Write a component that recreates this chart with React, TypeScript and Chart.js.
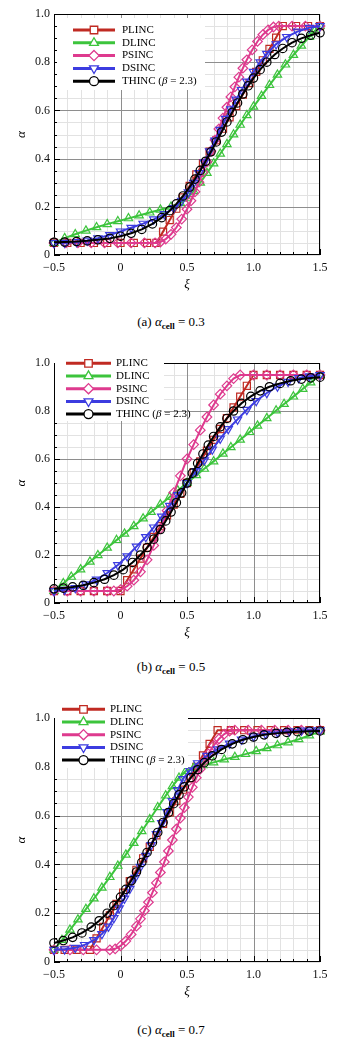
import React, { useEffect, useRef } from 'react';
import { Chart, registerables } from 'chart.js';

Chart.register(...registerables);

// ---------------- tick labels / names ----------------
const XI_TICK_VALUES = [-0.5, 0, 0.5, 1.0, 1.5];
const XI_TICK_LABELS = ['\u22120.5', '0', '0.5', '1.0', '1.5'];
const ALPHA_TICK_VALUES = [0, 0.2, 0.4, 0.6, 0.8, 1.0];
const ALPHA_TICK_LABELS = ['0', '0.2', '0.4', '0.6', '0.8', '1.0'];
const SERIES_NAMES = ['PLINC', 'DLINC', 'PSINC', 'DSINC', 'THINC'];
const THINC_BETA = '2.3';
const PANEL_LETTERS = ['(a)', '(b)', '(c)'];
const ALPHA_CELL_VALUES = ['0.3', '0.5', '0.7'];

// ---------------- (a) alpha_cell = 0.3 ----------------
const A_PLINC_XI = [-0.5, -0.4, -0.3, -0.2, -0.1, 0.0, 0.1, 0.2, 0.27, 0.32, 0.37, 0.42, 0.47, 0.52, 0.57, 0.62, 0.67, 0.72, 0.77, 0.82, 0.87, 0.92, 0.97, 1.02, 1.07, 1.12, 1.17, 1.22, 1.32, 1.41, 1.5];
const A_PLINC_ALPHA = [0.05, 0.05, 0.05, 0.05, 0.05, 0.05, 0.05, 0.05, 0.05, 0.097, 0.145, 0.192, 0.239, 0.287, 0.334, 0.381, 0.429, 0.476, 0.524, 0.571, 0.618, 0.666, 0.713, 0.76, 0.808, 0.855, 0.902, 0.95, 0.95, 0.95, 0.95];

const A_DLINC_XI = [-0.5, -0.42, -0.34, -0.26, -0.18, -0.1, -0.02, 0.06, 0.14, 0.22, 0.3, 0.38, 0.45, 0.5, 0.55, 0.6, 0.65, 0.7, 0.75, 0.8, 0.85, 0.9, 0.95, 1.0, 1.06, 1.12, 1.18, 1.24, 1.3, 1.36, 1.42, 1.46, 1.5];
const A_DLINC_ALPHA = [0.05, 0.07, 0.086, 0.101, 0.115, 0.128, 0.14, 0.152, 0.164, 0.176, 0.188, 0.2, 0.215, 0.235, 0.265, 0.3, 0.34, 0.38, 0.42, 0.46, 0.5, 0.54, 0.58, 0.615, 0.66, 0.705, 0.748, 0.79, 0.83, 0.868, 0.905, 0.93, 0.95];

const A_PSINC_XI = [-0.5, -0.41, -0.32, -0.22, -0.12, -0.02, 0.08, 0.18, 0.26, 0.3, 0.34, 0.38, 0.42, 0.46, 0.5, 0.53, 0.56, 0.59, 0.62, 0.65, 0.68, 0.71, 0.74, 0.77, 0.8, 0.83, 0.86, 0.89, 0.92, 0.95, 0.99, 1.03, 1.07, 1.11, 1.15, 1.19, 1.29, 1.39, 1.5];
const A_PSINC_ALPHA = [0.05, 0.05, 0.05, 0.05, 0.05, 0.05, 0.05, 0.05, 0.05, 0.054, 0.066, 0.086, 0.114, 0.149, 0.19, 0.225, 0.262, 0.302, 0.344, 0.387, 0.432, 0.477, 0.523, 0.568, 0.613, 0.656, 0.698, 0.738, 0.775, 0.81, 0.851, 0.886, 0.914, 0.934, 0.946, 0.95, 0.95, 0.95, 0.95];

const A_DSINC_XI = [-0.5, -0.42, -0.33, -0.25, -0.17, -0.08, 0.0, 0.08, 0.17, 0.25, 0.33, 0.4, 0.46, 0.51, 0.55, 0.59, 0.63, 0.67, 0.71, 0.75, 0.79, 0.83, 0.87, 0.91, 0.95, 1.0, 1.05, 1.1, 1.17, 1.25, 1.33, 1.42, 1.5];
const A_DSINC_ALPHA = [0.05, 0.051, 0.054, 0.06, 0.07, 0.083, 0.098, 0.113, 0.13, 0.148, 0.17, 0.195, 0.225, 0.26, 0.3, 0.34, 0.385, 0.43, 0.475, 0.52, 0.565, 0.605, 0.645, 0.685, 0.72, 0.76, 0.8, 0.835, 0.875, 0.905, 0.927, 0.943, 0.95];

const A_THINC_XI = [-0.5, -0.42, -0.33, -0.25, -0.17, -0.08, 0, 0.08, 0.16, 0.24, 0.31, 0.37, 0.42, 0.47, 0.52, 0.56, 0.6, 0.64, 0.68, 0.72, 0.76, 0.8, 0.84, 0.88, 0.92, 0.96, 1.0, 1.05, 1.1, 1.16, 1.22, 1.29, 1.36, 1.43, 1.5];
const A_THINC_ALPHA = [0.053, 0.054, 0.056, 0.059, 0.063, 0.069, 0.078, 0.09, 0.106, 0.129, 0.155, 0.184, 0.212, 0.245, 0.282, 0.315, 0.351, 0.389, 0.428, 0.469, 0.51, 0.552, 0.592, 0.631, 0.668, 0.702, 0.734, 0.769, 0.8, 0.832, 0.857, 0.881, 0.899, 0.912, 0.922];

// ---------------- (b) alpha_cell = 0.5 ----------------
const B_PLINC_XI = [-0.5, -0.4, -0.3, -0.2, -0.1, 0.0, 0.05, 0.1, 0.15, 0.2, 0.25, 0.3, 0.35, 0.4, 0.45, 0.5, 0.55, 0.6, 0.65, 0.7, 0.75, 0.8, 0.85, 0.9, 0.95, 1.0, 1.1, 1.2, 1.3, 1.4, 1.5];
const B_PLINC_ALPHA = [0.05, 0.05, 0.05, 0.05, 0.05, 0.05, 0.095, 0.14, 0.185, 0.23, 0.275, 0.32, 0.365, 0.41, 0.455, 0.5, 0.545, 0.59, 0.635, 0.68, 0.725, 0.77, 0.815, 0.86, 0.905, 0.95, 0.95, 0.95, 0.95, 0.95, 0.95];

const B_DLINC_XI = [-0.5, -0.43, -0.37, -0.3, -0.23, -0.17, -0.1, -0.03, 0.03, 0.1, 0.17, 0.23, 0.3, 0.37, 0.43, 0.5, 0.57, 0.63, 0.7, 0.77, 0.83, 0.9, 0.97, 1.03, 1.1, 1.17, 1.23, 1.3, 1.37, 1.43, 1.5];
const B_DLINC_ALPHA = [0.05, 0.082, 0.109, 0.14, 0.172, 0.199, 0.23, 0.262, 0.289, 0.32, 0.352, 0.379, 0.41, 0.442, 0.469, 0.5, 0.532, 0.559, 0.59, 0.622, 0.649, 0.68, 0.712, 0.739, 0.77, 0.802, 0.829, 0.86, 0.892, 0.919, 0.95];

const B_PSINC_XI = [-0.5, -0.4, -0.3, -0.2, -0.1, -0.05, 0, 0.05, 0.1, 0.15, 0.2, 0.25, 0.3, 0.35, 0.4, 0.45, 0.5, 0.55, 0.6, 0.65, 0.7, 0.75, 0.8, 0.85, 0.9, 1.0, 1.1, 1.2, 1.3, 1.4, 1.5];
const B_PSINC_ALPHA = [0.05, 0.05, 0.05, 0.05, 0.05, 0.05, 0.056, 0.07, 0.095, 0.13, 0.18, 0.24, 0.31, 0.385, 0.46, 0.53, 0.6, 0.66, 0.72, 0.775, 0.825, 0.87, 0.905, 0.935, 0.95, 0.95, 0.95, 0.95, 0.95, 0.95, 0.95];

const B_DSINC_XI = [-0.5, -0.42, -0.34, -0.26, -0.18, -0.1, -0.02, 0.05, 0.12, 0.19, 0.25, 0.31, 0.37, 0.43, 0.5, 0.57, 0.63, 0.69, 0.75, 0.81, 0.88, 0.95, 1.02, 1.1, 1.18, 1.26, 1.34, 1.42, 1.5];
const B_DSINC_ALPHA = [0.05, 0.055, 0.063, 0.078, 0.098, 0.125, 0.158, 0.195, 0.235, 0.275, 0.315, 0.36, 0.405, 0.45, 0.5, 0.55, 0.595, 0.64, 0.685, 0.725, 0.765, 0.805, 0.842, 0.875, 0.902, 0.922, 0.937, 0.945, 0.95];

const B_THINC_XI = [-0.5, -0.43, -0.36, -0.28, -0.2, -0.12, -0.05, 0.02, 0.09, 0.15, 0.2, 0.25, 0.3, 0.34, 0.38, 0.42, 0.46, 0.5, 0.54, 0.58, 0.62, 0.66, 0.7, 0.75, 0.8, 0.85, 0.91, 0.98, 1.05, 1.12, 1.2, 1.28, 1.36, 1.43, 1.5];
const B_THINC_ALPHA = [0.059, 0.062, 0.067, 0.074, 0.085, 0.099, 0.116, 0.139, 0.169, 0.2, 0.231, 0.266, 0.306, 0.342, 0.379, 0.418, 0.459, 0.5, 0.541, 0.582, 0.621, 0.658, 0.694, 0.734, 0.769, 0.8, 0.832, 0.861, 0.884, 0.901, 0.915, 0.926, 0.933, 0.938, 0.941];

// ---------------- (c) alpha_cell = 0.7 ----------------
const C_PLINC_XI = [-0.5, -0.42, -0.33, -0.23, -0.18, -0.13, -0.08, -0.03, 0.02, 0.07, 0.12, 0.17, 0.22, 0.27, 0.32, 0.37, 0.42, 0.47, 0.52, 0.57, 0.62, 0.67, 0.73, 0.83, 0.93, 1.03, 1.13, 1.23, 1.33, 1.42, 1.5];
const C_PLINC_ALPHA = [0.05, 0.05, 0.05, 0.05, 0.097, 0.144, 0.191, 0.238, 0.284, 0.331, 0.378, 0.425, 0.472, 0.519, 0.566, 0.613, 0.659, 0.706, 0.753, 0.8, 0.847, 0.894, 0.95, 0.95, 0.95, 0.95, 0.95, 0.95, 0.95, 0.95, 0.95];

const C_DLINC_XI = [-0.5, -0.44, -0.38, -0.32, -0.26, -0.2, -0.14, -0.08, -0.02, 0.04, 0.1, 0.16, 0.22, 0.28, 0.34, 0.39, 0.44, 0.49, 0.55, 0.62, 0.7, 0.78, 0.86, 0.94, 1.02, 1.1, 1.18, 1.26, 1.34, 1.42, 1.5];
const C_DLINC_ALPHA = [0.05, 0.09, 0.132, 0.174, 0.217, 0.26, 0.304, 0.348, 0.394, 0.44, 0.488, 0.536, 0.585, 0.634, 0.682, 0.72, 0.755, 0.782, 0.795, 0.806, 0.818, 0.83, 0.84, 0.852, 0.864, 0.876, 0.888, 0.9, 0.913, 0.928, 0.945];

const C_PSINC_XI = [-0.5, -0.38, -0.28, -0.18, -0.08, -0.04, 0.0, 0.04, 0.08, 0.12, 0.15, 0.18, 0.21, 0.24, 0.27, 0.3, 0.33, 0.36, 0.39, 0.42, 0.45, 0.48, 0.51, 0.54, 0.57, 0.6, 0.63, 0.66, 0.7, 0.74, 0.78, 0.82, 0.86, 0.96, 1.06, 1.16, 1.26, 1.36, 1.5];
const C_PSINC_ALPHA = [0.05, 0.05, 0.05, 0.05, 0.05, 0.054, 0.066, 0.086, 0.113, 0.147, 0.177, 0.21, 0.245, 0.284, 0.324, 0.367, 0.41, 0.455, 0.5, 0.545, 0.59, 0.633, 0.676, 0.716, 0.755, 0.791, 0.824, 0.853, 0.887, 0.914, 0.934, 0.946, 0.95, 0.95, 0.95, 0.95, 0.95, 0.95, 0.95];

const C_DSINC_XI = [-0.5, -0.42, -0.34, -0.27, -0.2, -0.14, -0.09, -0.05, -0.01, 0.03, 0.07, 0.11, 0.15, 0.19, 0.23, 0.27, 0.31, 0.35, 0.39, 0.43, 0.47, 0.52, 0.58, 0.65, 0.73, 0.82, 0.91, 1.0, 1.09, 1.18, 1.27, 1.36, 1.43, 1.5];
const C_DSINC_ALPHA = [0.05, 0.052, 0.058, 0.07, 0.09, 0.115, 0.145, 0.18, 0.22, 0.26, 0.3, 0.345, 0.39, 0.435, 0.48, 0.525, 0.57, 0.615, 0.66, 0.705, 0.75, 0.785, 0.815, 0.845, 0.872, 0.895, 0.912, 0.925, 0.935, 0.942, 0.946, 0.949, 0.95, 0.95];

const C_THINC_XI = [-0.5, -0.43, -0.36, -0.29, -0.22, -0.16, -0.1, -0.05, 0.0, 0.04, 0.08, 0.12, 0.16, 0.2, 0.24, 0.28, 0.32, 0.36, 0.4, 0.44, 0.48, 0.53, 0.58, 0.63, 0.69, 0.76, 0.84, 0.92, 1.0, 1.08, 1.17, 1.25, 1.33, 1.42, 1.5];
const C_THINC_ALPHA = [0.078, 0.088, 0.101, 0.119, 0.143, 0.169, 0.2, 0.231, 0.266, 0.298, 0.333, 0.369, 0.408, 0.449, 0.49, 0.531, 0.572, 0.612, 0.649, 0.685, 0.718, 0.756, 0.788, 0.817, 0.845, 0.871, 0.894, 0.911, 0.922, 0.931, 0.937, 0.941, 0.944, 0.946, 0.947];

// ---------------- styles ----------------
const SERIES_COLORS = ['#c02a22', '#3cc43c', '#de3a8e', '#3c3ce0', '#000000'];
const SERIES_POINT_STYLES = ['rect', 'triangle', 'rectRot', 'triangle', 'circle'];
const SERIES_POINT_ROTATION = [0, 0, 0, 180, 0];
const SERIES_POINT_RADIUS = [5, 4.8, 4.8, 4.8, 4.2];
const MINOR_GRID = '#e2e2e2';
const MAJOR_GRID = '#8e8e8e';
const FONT = '"Liberation Serif", "Times New Roman", serif';

const PANELS = [
  {
    top: 0, height: 300, padTop: 14, padBottom: 15,
    xi: [A_PLINC_XI, A_DLINC_XI, A_PSINC_XI, A_DSINC_XI, A_THINC_XI],
    alpha: [A_PLINC_ALPHA, A_DLINC_ALPHA, A_PSINC_ALPHA, A_DSINC_ALPHA, A_THINC_ALPHA],
    legend: { bx: 57, by: 18, bw: 148, bh: 72, row0: 30, step: 12.8, l0: 73, l1: 115, tx: 122 },
    captionY: 322,
  },
  {
    top: 340, height: 305, padTop: 23, padBottom: 12,
    xi: [B_PLINC_XI, B_DLINC_XI, B_PSINC_XI, B_DSINC_XI, B_THINC_XI],
    alpha: [B_PLINC_ALPHA, B_DLINC_ALPHA, B_PSINC_ALPHA, B_DSINC_ALPHA, B_THINC_ALPHA],
    legend: { bx: 55, by: 15, bw: 109, bh: 66, row0: 23.3, step: 12.7, l0: 66, l1: 111, tx: 116 },
    captionY: 667,
  },
  {
    top: 695, height: 310, padTop: 23, padBottom: 13,
    xi: [C_PLINC_XI, C_DLINC_XI, C_PSINC_XI, C_DSINC_XI, C_THINC_XI],
    alpha: [C_PLINC_ALPHA, C_DLINC_ALPHA, C_PSINC_ALPHA, C_DSINC_ALPHA, C_THINC_ALPHA],
    legend: { bx: 55, by: 5, bw: 133, bh: 68, row0: 14.3, step: 12.7, l0: 62, l1: 105, tx: 110 },
    captionY: 1030,
  },
];

function labelFor(values: number[], labels: string[], v: number) {
  const i = values.findIndex((t) => Math.abs(t - v) < 1e-9);
  return i >= 0 ? labels[i] : '';
}

function markerPath(ctx: CanvasRenderingContext2D, style: string, rotDeg: number, x: number, y: number, r: number) {
  ctx.beginPath();
  if (style === 'circle') {
    ctx.arc(x, y, r, 0, Math.PI * 2);
  } else if (style === 'rect') {
    const s = r * Math.SQRT1_2;
    ctx.rect(x - s, y - s, 2 * s, 2 * s);
  } else if (style === 'rectRot') {
    ctx.moveTo(x, y - r);
    ctx.lineTo(x + r, y);
    ctx.lineTo(x, y + r);
    ctx.lineTo(x - r, y);
    ctx.closePath();
  } else {
    let a = (rotDeg * Math.PI) / 180;
    ctx.moveTo(x + Math.sin(a) * r, y - Math.cos(a) * r);
    a += (2 * Math.PI) / 3;
    ctx.lineTo(x + Math.sin(a) * r, y - Math.cos(a) * r);
    a += (2 * Math.PI) / 3;
    ctx.lineTo(x + Math.sin(a) * r, y - Math.cos(a) * r);
    ctx.closePath();
  }
}

const framePlugin = {
  id: 'frameGrid',
  beforeDatasetsDraw(chart: any) {
    const { ctx, chartArea } = chart;
    const { left, right, top, bottom } = chartArea;
    const xs = chart.scales.x;
    const ys = chart.scales.y;
    ctx.save();
    ctx.lineWidth = 1;
    const vline = (v: number, color: string) => {
      const px = Math.round(xs.getPixelForValue(v)) + 0.5;
      ctx.strokeStyle = color;
      ctx.beginPath();
      ctx.moveTo(px, top);
      ctx.lineTo(px, bottom);
      ctx.stroke();
    };
    const hline = (v: number, color: string) => {
      const py = Math.round(ys.getPixelForValue(v)) + 0.5;
      ctx.strokeStyle = color;
      ctx.beginPath();
      ctx.moveTo(left, py);
      ctx.lineTo(right, py);
      ctx.stroke();
    };
    for (let i = 0; i <= 20; i++) vline(-0.5 + i * 0.1, MINOR_GRID);
    for (let j = 0; j <= 20; j++) hline(j * 0.05, MINOR_GRID);
    [0, 0.5, 1.0].forEach((v) => vline(v, MAJOR_GRID));
    [0.2, 0.4, 0.6, 0.8].forEach((v) => hline(v, MAJOR_GRID));
    // frame
    ctx.strokeStyle = '#000';
    ctx.strokeRect(Math.round(left) + 0.5, Math.round(top) + 0.5, Math.round(right - left) - 1, Math.round(bottom - top) - 1);
    // inward ticks
    ctx.beginPath();
    for (let i = 0; i <= 20; i++) {
      const v = -0.5 + i * 0.1;
      const major = Math.abs(Math.round(v * 2) - v * 2) < 1e-6;
      const px = Math.round(xs.getPixelForValue(v)) + 0.5;
      ctx.moveTo(px, bottom);
      ctx.lineTo(px, bottom - (major ? 6 : 3));
    }
    for (let j = 0; j <= 20; j++) {
      const v = j * 0.05;
      const major = Math.abs(Math.round(v * 5) - v * 5) < 1e-6;
      const py = Math.round(ys.getPixelForValue(v)) + 0.5;
      ctx.moveTo(left, py);
      ctx.lineTo(left + (major ? 6 : 3), py);
    }
    ctx.stroke();
    ctx.restore();
  },
  afterDraw(chart: any) {
    const { ctx, chartArea } = chart;
    const { left, right, top, bottom } = chartArea;
    const lg = chart.options.plugins.frameGrid.legend;
    ctx.save();
    // axis titles
    ctx.fillStyle = '#000';
    ctx.font = 'italic 13px ' + FONT;
    ctx.textAlign = 'center';
    ctx.textBaseline = 'middle';
    ctx.fillText('\u03BE', (left + right) / 2, bottom + 30);
    ctx.save();
    ctx.translate(22, (top + bottom) / 2);
    ctx.rotate(-Math.PI / 2);
    ctx.fillText('\u03B1', 0, 0);
    ctx.restore();
    // legend box
    ctx.fillStyle = '#fff';
    ctx.fillRect(lg.bx, lg.by, lg.bw, lg.bh);
    SERIES_NAMES.forEach((name, i) => {
      const y = lg.row0 + i * lg.step;
      ctx.strokeStyle = SERIES_COLORS[i];
      ctx.lineWidth = 3;
      ctx.beginPath();
      ctx.moveTo(lg.l0, y);
      ctx.lineTo(lg.l1, y);
      ctx.stroke();
      ctx.lineWidth = 1.3;
      markerPath(ctx, SERIES_POINT_STYLES[i], SERIES_POINT_ROTATION[i], (lg.l0 + lg.l1) / 2, y, SERIES_POINT_RADIUS[i] + 0.3);
      ctx.fillStyle = '#fff';
      ctx.fill();
      ctx.stroke();
      ctx.fillStyle = '#000';
      ctx.textAlign = 'left';
      ctx.textBaseline = 'middle';
      if (name === 'THINC') {
        let x = lg.tx;
        const parts: [string, string][] = [
          [name + ' (', ''],
          ['\u03B2', 'italic '],
          [' = ' + THINC_BETA + ')', ''],
        ];
        parts.forEach(([t, st]) => {
          ctx.font = st + '11px ' + FONT;
          ctx.fillText(t, x, y);
          x += ctx.measureText(t).width;
        });
      } else {
        ctx.font = '11px ' + FONT;
        ctx.fillText(name, lg.tx, y);
      }
    });
    ctx.restore();
  },
};

function Panel({ index }: { index: number }) {
  const ref = useRef<HTMLCanvasElement>(null);
  const p = PANELS[index];
  useEffect(() => {
    if (!ref.current) return;
    const datasets = SERIES_NAMES.map((name, i) => ({
      label: name,
      data: p.xi[i].map((x, k) => ({ x, y: p.alpha[i][k] })),
      borderColor: SERIES_COLORS[i],
      backgroundColor: SERIES_COLORS[i],
      borderWidth: 2,
      tension: 0,
      pointStyle: SERIES_POINT_STYLES[i],
      pointRotation: SERIES_POINT_ROTATION[i],
      pointRadius: SERIES_POINT_RADIUS[i],
      pointBorderWidth: 1.2,
      pointBorderColor: SERIES_COLORS[i],
      pointBackgroundColor: 'rgba(0,0,0,0)',
      clip: false,
      order: SERIES_NAMES.length - 1 - i,
    }));
    const chart = new Chart(ref.current, {
      type: 'line',
      data: { datasets },
      plugins: [framePlugin],
      options: {
        responsive: false,
        animation: false,
        events: [],
        layout: { padding: { left: 0, right: 29, top: p.padTop, bottom: p.padBottom } },
        scales: {
          x: {
            type: 'linear',
            min: -0.5,
            max: 1.5,
            afterBuildTicks: (s: any) => {
              s.ticks = XI_TICK_VALUES.map((v) => ({ value: v }));
            },
            afterFit: (s: any) => {
              s.height = 30;
            },
            ticks: {
              autoSkip: false,
              maxRotation: 0,
              padding: 6,
              color: '#111',
              font: { family: FONT, size: 12 },
              callback: (v: any) => labelFor(XI_TICK_VALUES, XI_TICK_LABELS, Number(v)),
            },
            grid: { display: false, drawTicks: false },
            border: { display: false },
          },
          y: {
            type: 'linear',
            min: 0,
            max: 1,
            afterBuildTicks: (s: any) => {
              s.ticks = ALPHA_TICK_VALUES.map((v) => ({ value: v }));
            },
            afterFit: (s: any) => {
              s.width = 54;
            },
            ticks: {
              autoSkip: false,
              padding: 4,
              color: '#111',
              font: { family: FONT, size: 12 },
              callback: (v: any) => labelFor(ALPHA_TICK_VALUES, ALPHA_TICK_LABELS, Number(v)),
            },
            grid: { display: false, drawTicks: false },
            border: { display: false },
          },
        },
        plugins: {
          legend: { display: false },
          tooltip: { enabled: false },
          frameGrid: { legend: p.legend },
        } as any,
      } as any,
    });
    return () => chart.destroy();
  }, [index]);
  return (
    <canvas
      ref={ref}
      width={349}
      height={p.height}
      style={{ position: 'absolute', left: 0, top: p.top, width: 349, height: p.height }}
    />
  );
}

function Caption({ index }: { index: number }) {
  const p = PANELS[index];
  return (
    <div
      style={{
        position: 'absolute',
        left: 0,
        width: 342,
        top: p.captionY - 9,
        height: 18,
        lineHeight: '18px',
        textAlign: 'center',
        fontFamily: FONT,
        fontSize: 13,
        color: '#000',
        whiteSpace: 'nowrap',
      }}
    >
      {PANEL_LETTERS[index]} <i>{'\u03B1'}</i>
      <sub style={{ fontSize: 9, fontWeight: 'bold', verticalAlign: '-3px' }}>cell</sub>
      {' = ' + ALPHA_CELL_VALUES[index]}
    </div>
  );
}

export default function App() {
  return (
    <div style={{ position: 'absolute', left: 0, top: 0, width: 349, height: 1041, background: '#fff', overflow: 'hidden' }}>
      {PANELS.map((_, i) => (
        <React.Fragment key={i}>
          <Panel index={i} />
          <Caption index={i} />
        </React.Fragment>
      ))}
    </div>
  );
}
